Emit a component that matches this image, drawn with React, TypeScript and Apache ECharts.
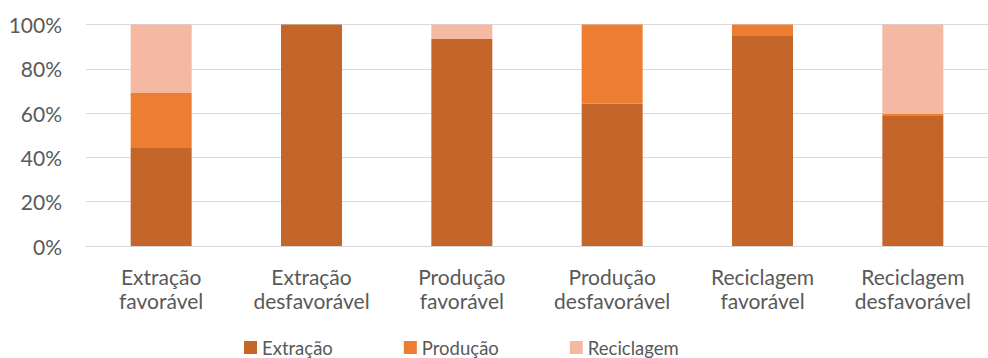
import React, { useEffect, useRef } from "react";
import * as echarts from "echarts";

const categories = [
  "Extração\nfavorável",
  "Extração\ndesfavorável",
  "Produção\nfavorável",
  "Produção\ndesfavorável",
  "Reciclagem\nfavorável",
  "Reciclagem\ndesfavorável",
];
const seriesNames = ["Extração", "Produção", "Reciclagem"];
const extracao = [44.3, 100, 93.5, 64.3, 95.2, 59.0];
const producao = [24.8, 0, 0, 35.7, 4.8, 0.6];
const reciclagem = [30.9, 0, 6.5, 0, 0, 40.4];
const colors = ["#C4662A", "#ED7D31", "#F4B8A3"];

const FONT = "Lato";

export default function App() {
  const ref = useRef<HTMLDivElement>(null);
  useEffect(() => {
    if (!ref.current) return;
    const chart = echarts.init(ref.current, null, { renderer: "svg" });
    const values = [extracao, producao, reciclagem];
    chart.setOption({
      animation: false,
      textStyle: { fontFamily: FONT },
      grid: { left: 86, top: 24.5, width: 913.8, height: 221.5, containLabel: false },
      legend: {
        top: 338,
        left: 244,
        padding: 0,
        itemWidth: 13,
        itemHeight: 13,
        itemGap: 71,
        icon: "rect",
        textStyle: {
          color: "#595959",
          fontSize: 18.5,
          lineHeight: 18,
          fontFamily: FONT,
        },
        data: seriesNames,
      },
      xAxis: {
        type: "category",
        data: categories,
        axisLine: { lineStyle: { color: "#D9D9D9", width: 1 } },
        axisTick: { show: false },
        axisLabel: {
          color: "#595959",
          fontSize: 21,
          fontFamily: FONT,
          lineHeight: 24,
          margin: 18,
          interval: 0,
        },
      },
      yAxis: {
        type: "value",
        min: 0,
        max: 100,
        interval: 20,
        axisLabel: {
          formatter: "{value}%",
          color: "#595959",
          fontSize: 21,
          fontFamily: FONT,
          margin: 24,
        },
        splitLine: { lineStyle: { color: "#D9D9D9", width: 1 } },
        axisLine: { show: false },
        axisTick: { show: false },
      },
      series: seriesNames.map((name, i) => ({
        name,
        type: "bar",
        stack: "total",
        barWidth: 61,
        data: values[i],
        itemStyle: {
          color: colors[i],
          borderWidth: 0,
        },
      })),
    });
    return () => chart.dispose();
  }, []);
  return (
    <div
      ref={ref}
      style={{ position: "absolute", left: 0, top: 0, width: 988, height: 358, overflow: "hidden" }}
    />
  );
}
